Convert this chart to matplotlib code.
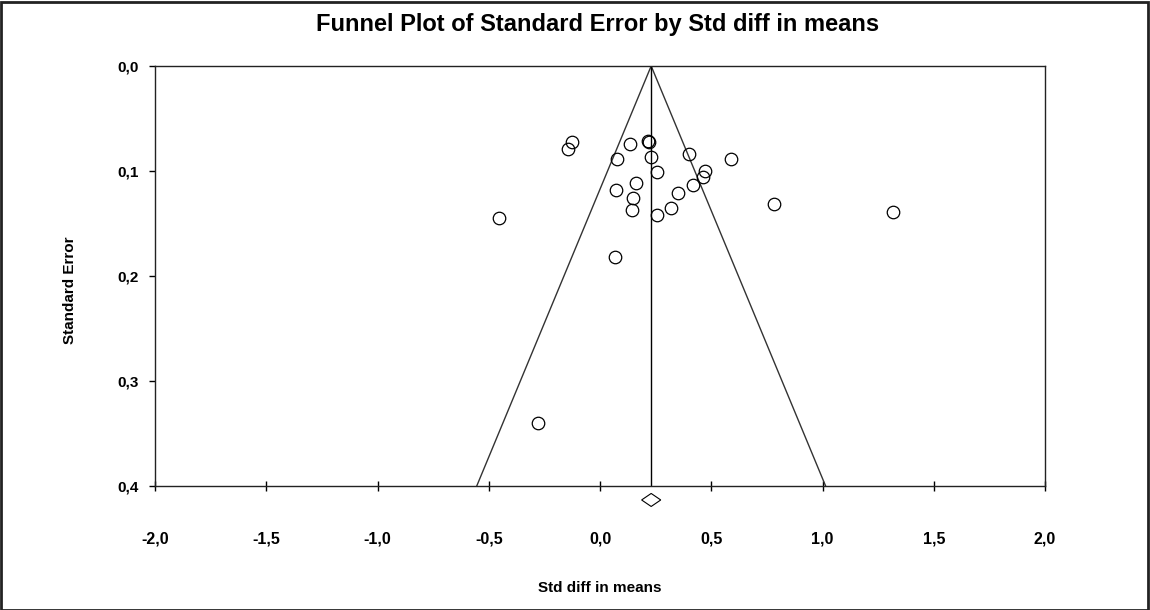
import matplotlib
matplotlib.use("Agg")
import matplotlib.pyplot as plt
from matplotlib.patches import Polygon, Rectangle

# Data
std_diff = [-0.127, -0.142, 0.137, 0.215, 0.222, 0.077, 0.227, 0.401, 0.587,
            0.255, 0.470, 0.461, 0.163, 0.417, 0.073, 0.352, 0.147, 0.317,
            0.145, 0.254, -0.452, 0.068, 0.781, 1.317, -0.280]
std_err = [0.0724, 0.0793, 0.0746, 0.0714, 0.0722, 0.0883, 0.0864, 0.0841, 0.0886,
           0.1007, 0.1000, 0.1060, 0.1110, 0.1136, 0.1184, 0.1210, 0.1260, 0.1350,
           0.1370, 0.1419, 0.1450, 0.1816, 0.1317, 0.1393, 0.3397]
summary_effect = 0.23
summary_ci_half = 0.043
se_max = 0.4
z_crit = 1.96

x_ticks = [-2.0, -1.5, -1.0, -0.5, 0.0, 0.5, 1.0, 1.5, 2.0]
x_tick_labels = ["-2,0", "-1,5", "-1,0", "-0,5", "0,0", "0,5", "1,0", "1,5", "2,0"]
y_ticks = [0.0, 0.1, 0.2, 0.3, 0.4]
y_tick_labels = ["0,0", "0,1", "0,2", "0,3", "0,4"]

plt.rcParams['font.family'] = ['Liberation Sans', 'DejaVu Sans']

fig = plt.figure(figsize=(11.5, 6.1), dpi=100)
ax = fig.add_axes([155/1150, 1 - 486/610, 890/1150, 420/610])

# funnel
ax.plot([summary_effect - z_crit * se_max, summary_effect, summary_effect + z_crit * se_max],
        [se_max, 0, se_max], color='#333333', lw=1.0)
ax.plot([summary_effect, summary_effect], [0, se_max], color='black', lw=1.0)

ax.plot(std_diff, std_err, linestyle='none', marker='o', markersize=9,
        markerfacecolor='none', markeredgecolor='black', markeredgewidth=0.9)

# summary diamond below the axis
dy = 0.0062
yc = se_max + 0.0133
diamond = Polygon([[summary_effect - summary_ci_half, yc],
                   [summary_effect, yc - dy],
                   [summary_effect + summary_ci_half, yc],
                   [summary_effect, yc + dy]],
                  closed=True, facecolor='white', edgecolor='black', lw=0.8, clip_on=False)
ax.add_patch(diamond)

ax.set_xlim(-2.0, 2.0)
ax.set_ylim(0.4, 0.0)
ax.set_xticks(x_ticks)
ax.set_xticklabels(x_tick_labels, fontsize=11.5, fontweight='bold')
ax.set_yticks(y_ticks)
ax.set_yticklabels(y_tick_labels, fontsize=11, fontweight='bold')
ax.tick_params(axis='x', direction='inout', length=7, width=1, pad=29)
ax.tick_params(axis='y', direction='out', length=4, width=1, pad=8)
for s in ax.spines.values():
    s.set_linewidth(1.0)
    s.set_color('#222222')

ax.set_xlabel("Std diff in means", fontsize=11, fontweight='bold')
ax.xaxis.set_label_coords(0.5, (486 - 588) / 420)
ax.xaxis.label.set_verticalalignment('center')
ax.set_ylabel("Standard Error", fontsize=11, fontweight='bold')
ax.yaxis.set_label_coords(-0.0876, 0.467)

fig.text(598/1150, 1 - 25/610, "Funnel Plot of Standard Error by Std diff in means",
         ha='center', va='center', fontsize=17, fontweight='bold',
         family=['Liberation Sans Narrow', 'Liberation Sans', 'DejaVu Sans'])

fig.add_artist(Rectangle((0.001, 0.0), 0.997, 0.997, transform=fig.transFigure,
                         fill=False, edgecolor='#222222', lw=2.0))

fig.savefig("out.png", dpi=100, facecolor='white')
